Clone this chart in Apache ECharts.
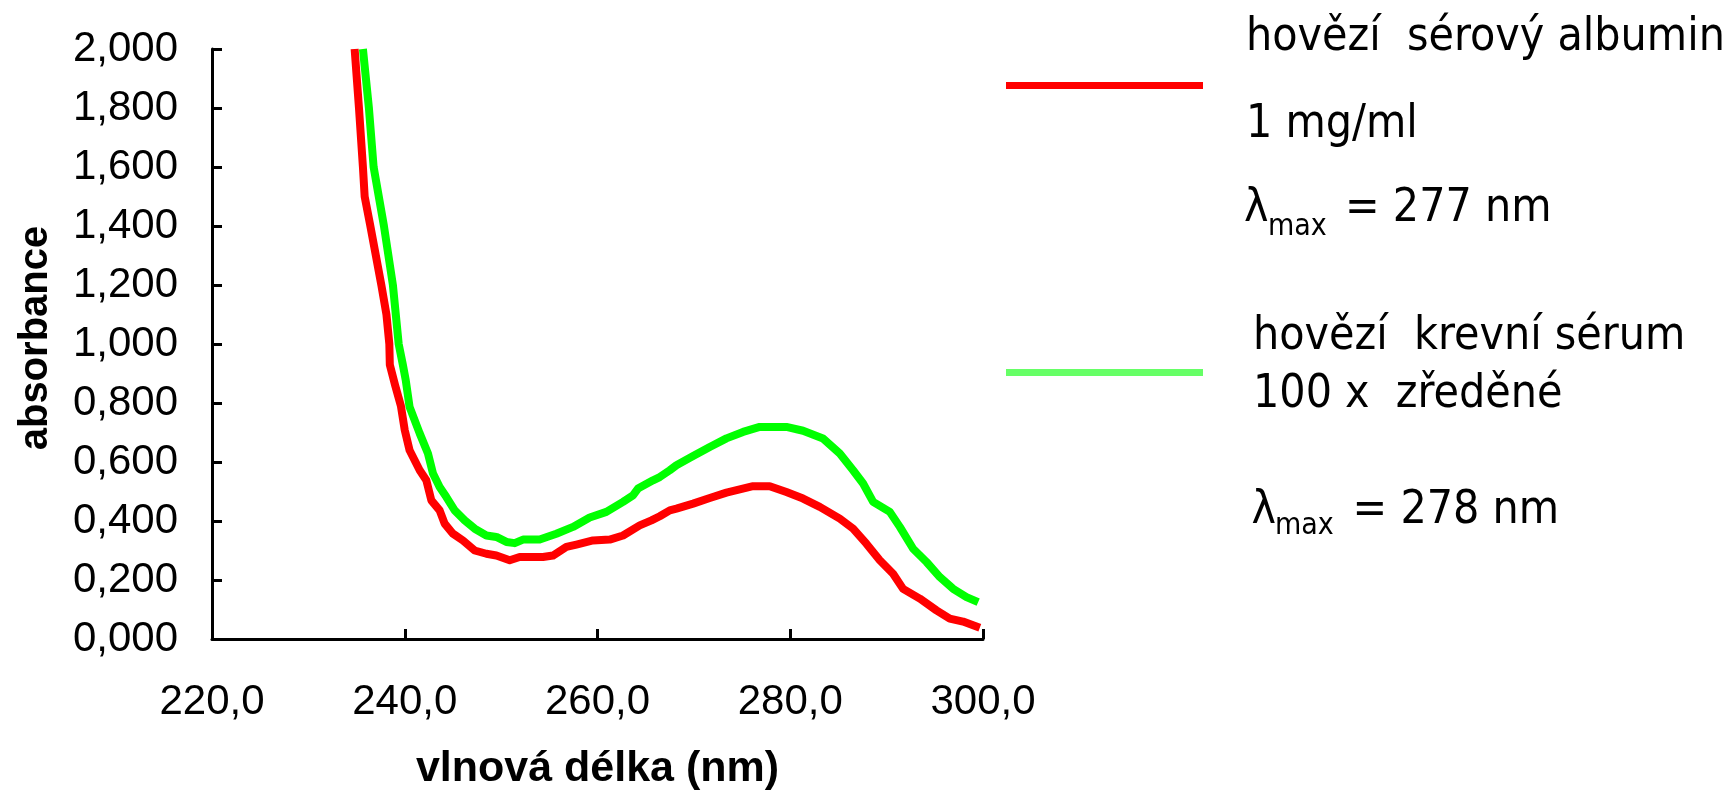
<!DOCTYPE html>
<html>
<head>
<meta charset="utf-8">
<script src="https://cdn.jsdelivr.net/npm/echarts@6/dist/echarts.min.js"></script>
<style>
html,body{margin:0;padding:0;background:#fff;}
#chart{width:1733px;height:791px;}
</style>
</head>
<body>
<div id="chart"></div>
<script>
// ---- data ----
const xTickLabels = ['220,0', '240,0', '260,0', '280,0', '300,0'];
const yTickLabels = ['0,000','0,200','0,400','0,600','0,800','1,000','1,200','1,400','1,600','1,800','2,000'];

const seriesNames = ['hovězí sérový albumin 1 mg/ml', 'hovězí krevní sérum 100 x zředěné'];

// hovězí sérový albumin 1 mg/ml (red)
const wlAlbumin = [234.8, 235.25, 235.66, 235.84, 236.43, 237.0, 237.57, 238.1, 238.4, 238.45, 239.0, 239.6, 240.0, 240.5,
  241.55, 242.24, 242.76, 243.62, 244.14, 245.0, 246.04, 247.26, 248.47, 249.51, 250.89, 251.92, 254.34, 255.38,
  256.77, 257.81, 259.53, 261.27, 262.65, 264.38, 265.6, 266.46, 267.5, 268.19, 269.92, 271.65, 273.38, 274.76,
  276.14, 277.87, 279.6, 281.33, 283.06, 285.14, 286.52, 287.9, 289.29, 290.67, 291.71, 293.44, 295.17, 296.55,
  297.93, 299.67];
const absAlbumin = [2.0, 1.8, 1.6, 1.5, 1.4, 1.3, 1.2, 1.1, 1.0, 0.93, 0.86, 0.79, 0.708, 0.64,
  0.572, 0.538, 0.47, 0.436, 0.391, 0.357, 0.334, 0.3, 0.289, 0.283, 0.267, 0.278, 0.278, 0.283,
  0.312, 0.32, 0.334, 0.337, 0.351, 0.385, 0.402, 0.416, 0.436, 0.442, 0.459, 0.478, 0.496, 0.507,
  0.518, 0.518, 0.498, 0.476, 0.448, 0.408, 0.374, 0.323, 0.267, 0.221, 0.17, 0.137, 0.097, 0.069,
  0.059, 0.038];

// hovězí krevní sérum 100 x zředěné (green)
const wlSerum = [235.66, 236.28, 236.77, 237.84, 238.77, 239.37, 239.8, 240.1, 240.5, 241.55, 242.41, 242.93,
  243.62, 244.32, 245.18, 246.22, 247.26, 248.47, 249.51, 250.55, 251.41, 252.27, 254.0, 255.73, 257.46,
  259.19, 260.92, 262.65, 263.68, 264.2, 265.76, 266.46, 267.5, 268.19, 269.92, 271.65, 273.38, 275.1,
  276.83, 279.6, 281.33, 283.4, 285.14, 286.52, 287.56, 288.6, 290.33, 291.37, 292.75, 294.14, 295.52,
  296.9, 298.29, 299.5];
const absSerum = [2.0, 1.8, 1.6, 1.4, 1.2, 1.0, 0.93, 0.878, 0.787, 0.697, 0.629, 0.561,
  0.515, 0.481, 0.436, 0.402, 0.374, 0.351, 0.346, 0.329, 0.325, 0.337, 0.337, 0.357, 0.38,
  0.412, 0.431, 0.465, 0.487, 0.51, 0.538, 0.549, 0.572, 0.589, 0.62, 0.651, 0.68, 0.702,
  0.719, 0.719, 0.706, 0.68, 0.629, 0.572, 0.527, 0.465, 0.431, 0.38, 0.306, 0.261, 0.21,
  0.17, 0.142, 0.125];

const legendLines = [
  ['hovězí  sérový albumin', '1 mg/ml', '277 nm'],
  ['hovězí  krevní sérum', '100 x  zředěné', '278 nm']
];

const zip = (xs, ys) => xs.map((x, i) => [x, ys[i]]);

const chart = echarts.init(document.getElementById('chart'), null, {renderer: 'canvas'});

const axisFont = "'Liberation Sans', Arial, sans-serif";
const legFont = "'DejaVu Sans Condensed', 'Liberation Sans', Arial, sans-serif";

function txt(x, y, text, size, weight) {
  return {
    type: 'text', x: x, y: y, silent: true,
    style: {
      text: text, fill: '#000',
      font: (weight || 'normal') + ' ' + size + 'px ' + legFont,
      align: 'left', verticalAlign: 'middle',
      textAlign: 'left', textVerticalAlign: 'middle'
    }
  };
}

const option = {
  backgroundColor: '#ffffff',
  animation: false,
  grid: { left: 212, right: 750, top: 49, bottom: 152, containLabel: false, outerBoundsMode: 'none' },
  xAxis: {
    type: 'value', min: 220, max: 300, interval: 20,
    name: 'vlnová délka (nm)', nameLocation: 'middle', nameGap: 109,
    nameTextStyle: { fontFamily: axisFont, fontWeight: 'bold', fontSize: 43, color: '#000' },
    axisLine: { show: true, onZero: false, lineStyle: { color: '#000', width: 3 } },
    axisTick: { show: true, inside: true, length: 10, lineStyle: { color: '#000', width: 3 } },
    axisLabel: {
      margin: 42, fontFamily: axisFont, fontSize: 42, color: '#000',
      formatter: v => xTickLabels[Math.round((v - 220) / 20)]
    },
    splitLine: { show: false }
  },
  yAxis: {
    type: 'value', min: 0, max: 2, interval: 0.2,
    name: 'absorbance', nameLocation: 'middle', nameGap: 156,
    nameTextStyle: { fontFamily: axisFont, fontWeight: 'bold', fontSize: 40, color: '#000', padding: [0, 0, 0, 12] },
    axisLine: { show: true, lineStyle: { color: '#000', width: 3 } },
    axisTick: { show: true, inside: true, length: 10, lineStyle: { color: '#000', width: 3 } },
    axisLabel: {
      margin: 34, fontFamily: axisFont, fontSize: 42, color: '#000',
      formatter: v => yTickLabels[Math.round(v / 0.2)]
    },
    splitLine: { show: false }
  },
  series: [
    {
      name: seriesNames[0], type: 'line', data: zip(wlAlbumin, absAlbumin),
      showSymbol: false, symbol: 'none', smooth: false,
      lineStyle: { color: '#ff0000', width: 8, join: 'round' }, z: 3
    },
    {
      name: seriesNames[1], type: 'line', data: zip(wlSerum, absSerum),
      showSymbol: false, symbol: 'none', smooth: false,
      lineStyle: { color: '#00ff00', width: 8, join: 'round' }, z: 2
    }
  ],
  graphic: [
    { type: 'rect', silent: true, shape: { x: 1006, y: 82, width: 197, height: 7 }, style: { fill: '#ff0000' } },
    { type: 'rect', silent: true, shape: { x: 1006, y: 369, width: 197, height: 7 }, style: { fill: '#66ff66' } },
    txt(1246, 38.5, legendLines[0][0], 46),
    txt(1246, 125, legendLines[0][1], 46),
    txt(1244, 209.5, 'λ', 46),
    txt(1268, 227.4, 'max', 30),
    txt(1345, 209.5, '= ' + legendLines[0][2], 46),
    txt(1253, 337, legendLines[1][0], 46),
    txt(1253, 394.6, legendLines[1][1], 46),
    txt(1251.6, 510.7, 'λ', 46),
    txt(1275, 526.5, 'max', 30),
    txt(1352.6, 510.7, '= ' + legendLines[1][2], 46)
  ]
};

chart.setOption(option);
</script>
</body>
</html>
